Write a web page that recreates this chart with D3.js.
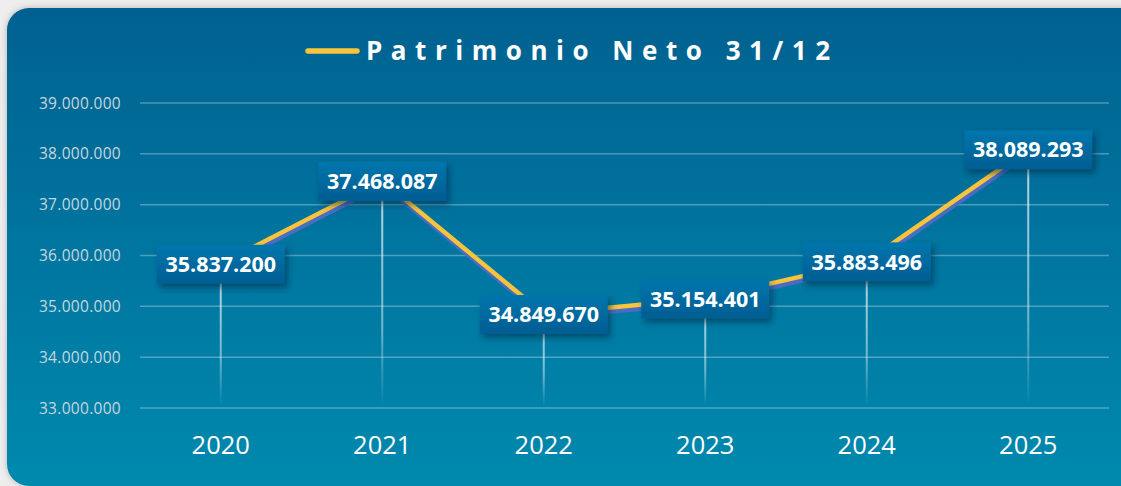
<!DOCTYPE html>
<html lang="es">
<head>
<meta charset="UTF-8">
<script src="https://d3js.org/d3.v7.min.js"></script>
<style>
  html, body { margin: 0; padding: 0; background: #eeeeee; }
  svg { display: block; }
</style>
</head>
<body>
<svg id="chart" width="1121" height="486"></svg>
<script>
// data
const years = ["2020", "2021", "2022", "2023", "2024", "2025"];
const patrimonio = [35837200, 37468087, 34849670, 35154401, 35883496, 38089293];
const yTicks = [33000000, 34000000, 35000000, 36000000, 37000000, 38000000, 39000000];
const titleText = "Patrimonio Neto 31/12";

const W = 1121, H = 486;
const svg = d3.select("#chart");
const defs = svg.append("defs");

// panel gradient
const bg = defs.append("linearGradient").attr("id", "bg")
    .attr("x1", 0).attr("y1", 0).attr("x2", 0).attr("y2", 1);
bg.append("stop").attr("offset", "0%").attr("stop-color", "#006190");
bg.append("stop").attr("offset", "100%").attr("stop-color", "#0089ae");

const boxGrad = defs.append("linearGradient").attr("id", "boxGrad")
    .attr("x1", 0).attr("y1", 0).attr("x2", 0).attr("y2", 1);
boxGrad.append("stop").attr("offset", "0%").attr("stop-color", "#0076ad");
boxGrad.append("stop").attr("offset", "100%").attr("stop-color", "#005d92");

const dropGrad = defs.append("linearGradient").attr("id", "dropGrad")
    .attr("x1", 0).attr("y1", 0).attr("x2", 0).attr("y2", 1);
dropGrad.append("stop").attr("offset", "0%").attr("stop-color", "#ffffff").attr("stop-opacity", 0.75);
dropGrad.append("stop").attr("offset", "65%").attr("stop-color", "#ffffff").attr("stop-opacity", 0.45);
dropGrad.append("stop").attr("offset", "100%").attr("stop-color", "#ffffff").attr("stop-opacity", 0);

const sh = defs.append("filter").attr("id", "boxShadow")
    .attr("x", "-20%").attr("y", "-30%").attr("width", "150%").attr("height", "180%");
sh.append("feDropShadow").attr("dx", 3).attr("dy", 4).attr("stdDeviation", 3)
    .attr("flood-color", "#002a45").attr("flood-opacity", 0.55);

const panelSh = defs.append("filter").attr("id", "panelShadow")
    .attr("x", "-5%").attr("y", "-5%").attr("width", "110%").attr("height", "110%");
panelSh.append("feDropShadow").attr("dx", 0).attr("dy", 0).attr("stdDeviation", 3)
    .attr("flood-color", "#000").attr("flood-opacity", 0.25);

svg.append("rect")
    .attr("x", 7).attr("y", 8)
    .attr("width", W + 20).attr("height", H - 8)
    .attr("rx", 22)
    .attr("fill", "url(#bg)")
    .attr("filter", "url(#panelShadow)");

// scales
const x = d3.scaleBand().domain(years).range([140, 1109]).padding(0);
const y = d3.scaleLinear().domain([33000000, 39000000]).range([408, 103]);
const fmt = v => d3.format(",")(v).replace(/,/g, ".");

// grid
svg.append("g").selectAll("line").data(yTicks).join("line")
    .attr("x1", 140).attr("x2", 1109)
    .attr("y1", d => y(d)).attr("y2", d => y(d))
    .attr("stroke", "#ffffff").attr("stroke-opacity", 0.3).attr("stroke-width", 1.5);

// y axis labels
svg.append("g").selectAll("text").data(yTicks).join("text")
    .attr("x", 121).attr("y", d => y(d)).attr("dy", "0.36em")
    .attr("text-anchor", "end")
    .attr("font-family", "'Open Sans', sans-serif")
    .attr("font-size", 15.5)
    .attr("letter-spacing", 0.3)
    .attr("fill", "#c6d7df")
    .text(d => fmt(d));

// x axis labels
svg.append("g").selectAll("text").data(years).join("text")
    .attr("x", d => x(d) + x.bandwidth() / 2).attr("y", 454)
    .attr("text-anchor", "middle")
    .attr("font-family", "'Open Sans', sans-serif")
    .attr("font-size", 25.5)
    .attr("fill", "#ffffff")
    .text(d => d);

const pts = years.map((yr, i) => ({ year: yr, value: patrimonio[i] }));
const cx = d => x(d.year) + x.bandwidth() / 2;

// drop lines
svg.append("g").selectAll("rect").data(pts).join("rect")
    .attr("x", d => cx(d) - 1).attr("width", 2)
    .attr("y", d => y(d.value)).attr("height", d => y(33000000) - y(d.value) - 2)
    .attr("fill", "url(#dropGrad)");

// line with shadow
const line = d3.line().x(cx).y(d => y(d.value));
svg.append("path").datum(pts)
    .attr("d", line)
    .attr("transform", "translate(1,4)")
    .attr("fill", "none")
    .attr("stroke", "#4b6cc3").attr("stroke-width", 4.5);
svg.append("path").datum(pts)
    .attr("d", line)
    .attr("fill", "none")
    .attr("stroke", "#f8c43c").attr("stroke-width", 4.5);

// labels
const lbl = svg.append("g").selectAll("g").data(pts).join("g")
    .attr("transform", d => `translate(${cx(d)},${y(d.value)})`);
lbl.append("rect")
    .attr("x", -64).attr("y", -19).attr("width", 128).attr("height", 39)
    .attr("fill", "url(#boxGrad)")
    .attr("filter", "url(#boxShadow)");
lbl.append("text")
    .attr("text-anchor", "middle").attr("dy", "0.38em")
    .attr("font-family", "'Open Sans', sans-serif")
    .attr("font-weight", "bold")
    .attr("font-size", 21.5)
    .attr("fill", "#ffffff")
    .text(d => fmt(d.value));

// legend / title
svg.append("line")
    .attr("x1", 308).attr("x2", 357).attr("y1", 51).attr("y2", 51)
    .attr("stroke", "#f8c43c").attr("stroke-width", 5.5).attr("stroke-linecap", "round");
svg.append("text")
    .attr("x", 366).attr("y", 60)
    .attr("font-family", "'Open Sans', sans-serif")
    .attr("font-weight", "bold")
    .attr("font-size", 26)
    .attr("fill", "#ffffff")
    .attr("textLength", 464).attr("lengthAdjust", "spacing")
    .text(titleText);
</script>
</body>
</html>
